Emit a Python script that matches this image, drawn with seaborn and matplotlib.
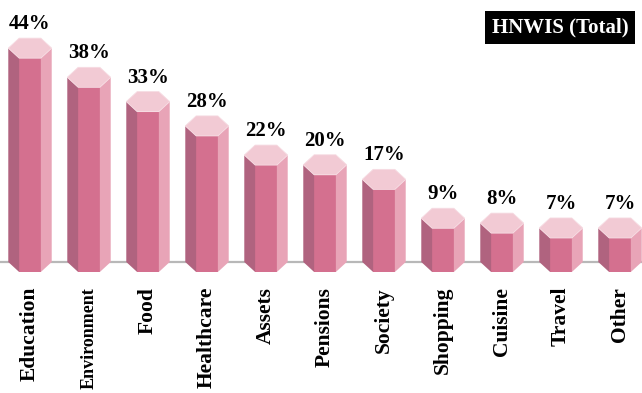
import numpy as np
import pandas as pd
import matplotlib
matplotlib.use("Agg")
import matplotlib.pyplot as plt
import seaborn as sns
from matplotlib.patches import Polygon

categories = ["Education", "Environment", "Food", "Healthcare", "Assets", "Pensions",
              "Society", "Shopping", "Cuisine", "Travel", "Other"]
values = [44, 38, 33, 28, 22, 20, 17, 9, 8, 7, 7]
value_labels = [f"{v}%" for v in values]
badge_text = "HNWIS (Total)"

FRONT = "#d4708f"
LEFT = "#b0637f"
RIGHT = "#e8a4b7"
TOP = "#f2cad4"
BASE = "#b8b8b8"

sns.set_theme(style="white")
plt.rcParams['font.family'] = ['Liberation Serif', 'DejaVu Serif']

fig = plt.figure(figsize=(6.42, 3.93), dpi=100)
ax = fig.add_axes([0, (393 - 280) / 393, 1, 270 / 393])

PX = 4.86          # pixels per percentage unit
D = 10 / PX        # half height of the hexagon top, in data units
W = 0.368          # half width of the hexagon in category units
F = W / 2          # half width of the front face

df = pd.DataFrame({"cat": categories, "val": values})
sns.barplot(data=df, x="cat", y="val", width=2 * F, color=FRONT, saturation=1,
            linewidth=0, ax=ax, zorder=3)

for i, v in enumerate(values):
    left = [(i - W, v + D), (i - F, v), (i - F, 0), (i - W, D)]
    right = [(i + W, v + D), (i + F, v), (i + F, 0), (i + W, D)]
    top = [(i - W, v + D), (i - F, v + 2 * D), (i + F, v + 2 * D),
           (i + W, v + D), (i + F, v), (i - F, v)]
    ax.add_patch(Polygon(left, closed=True, fc=LEFT, ec="none", zorder=3))
    ax.add_patch(Polygon(right, closed=True, fc=RIGHT, ec="none", zorder=3))
    ax.add_patch(Polygon(top, closed=True, fc=TOP, ec="#f6dbe2", lw=0.6, zorder=4))
    ax.text(i, v + 2 * D + 4 / PX, value_labels[i], ha="center", va="bottom",
            fontsize=15, fontweight="bold", color="black", zorder=5)

ax.axhline(D, color=BASE, lw=1.6, zorder=1)

ax.set_xlim(-30 / 59, 10 + 22 / 59)
ax.set_ylim(-8 / PX, 262 / PX)
ax.set_xlabel("")
ax.set_ylabel("")
ax.set_yticks([])
ax.set_xticks(range(len(categories)))
ax.set_xticklabels(categories, rotation=90, fontsize=15.5, fontweight="bold", color="black")
ax.tick_params(axis="x", length=0, pad=5)
for lbl in ax.get_xticklabels():
    if len(lbl.get_text()) > 10:
        lbl.set_fontsize(13)
for s in ax.spines.values():
    s.set_visible(False)

fig.text(560 / 642, 1 - 27.5 / 393, badge_text, ha="center", va="center",
         fontsize=15, fontweight="bold", color="white",
         bbox=dict(boxstyle="square,pad=0.32", fc="black", ec="none"))

fig.savefig("out.png", dpi=100)
